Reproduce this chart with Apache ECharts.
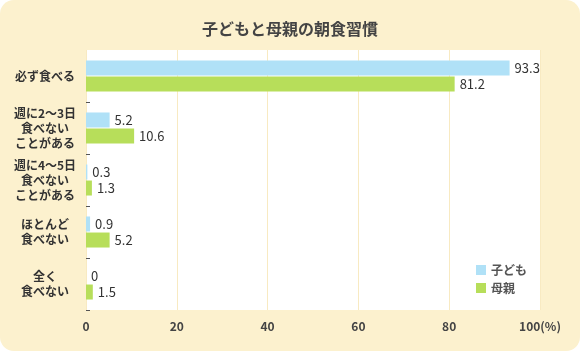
<!DOCTYPE html>
<html>
<head>
<meta charset="utf-8">
<script src="https://cdn.jsdelivr.net/npm/echarts@6/dist/echarts.min.js"></script>
<style>
html, body { margin: 0; padding: 0; background: #fff; }
#chart { width: 580px; height: 351px; background: #fcf1ce; border-radius: 14px; }
</style>
</head>
<body>
<div id="chart"></div>
<script>
var categories = ['必ず食べる', '週に2〜3日\n食べない\nことがある', '週に4〜5日\n食べない\nことがある', 'ほとんど\n食べない', '全く\n食べない'];
var childValues = [93.3, 5.2, 0.3, 0.9, 0];
var motherValues = [81.2, 10.6, 1.3, 5.2, 1.5];
var xTicks = [0, 20, 40, 60, 80, 100];

var chart = echarts.init(document.getElementById('chart'));
var font = '"Noto Sans CJK JP", "Noto Sans", sans-serif';

function bar(name, data, color) {
    return {
        name: name,
        type: 'bar',
        data: data,
        barWidth: 15,
        barGap: '7%',
        itemStyle: { color: color },
        label: {
            show: true,
            position: 'right',
            distance: 5,
            color: '#333',
            fontSize: 13,
            fontFamily: font
        }
    };
}

chart.setOption({
    textStyle: { fontFamily: font },
    title: {
        text: '子どもと母親の朝食習慣',
        left: 'center',
        top: 16,
        textStyle: { fontSize: 16, fontWeight: 'bold', color: '#444', fontFamily: font }
    },
    legend: {
        orient: 'vertical',
        right: 48,
        bottom: 52,
        itemWidth: 10,
        itemHeight: 10,
        itemGap: 6,
        icon: 'rect',
        textStyle: { fontSize: 12, color: '#555', fontWeight: 'bold', fontFamily: font },
        data: ['子ども', '母親']
    },
    grid: {
        left: 86, right: 40, top: 50, bottom: 41,
        show: true, backgroundColor: '#fff', borderWidth: 0
    },
    xAxis: {
        type: 'value',
        min: xTicks[0],
        max: xTicks[xTicks.length - 1],
        interval: 20,
        axisLine: { show: false },
        axisTick: { show: false },
        splitLine: { lineStyle: { color: '#f8eac2', width: 1 } },
        axisLabel: {
            margin: 10,
            fontSize: 12,
            fontWeight: 'bold',
            color: '#444',
            formatter: function (v) { return v === 100 ? '100(%)' : String(v); }
        }
    },
    yAxis: {
        type: 'category',
        inverse: true,
        data: categories,
        axisLine: { show: false },
        axisTick: {
            show: true,
            inside: true,
            length: 4,
            lineStyle: { color: '#555' },
            interval: function (i) { return i > 0; }
        },
        axisLabel: {
            margin: 41,
            align: 'center',
            fontSize: 12,
            fontWeight: 'bold',
            lineHeight: 15,
            color: '#333'
        }
    },
    series: [
        bar('子ども', childValues, '#b0e1f7'),
        bar('母親', motherValues, '#b7de5a')
    ]
});
</script>
</body>
</html>
